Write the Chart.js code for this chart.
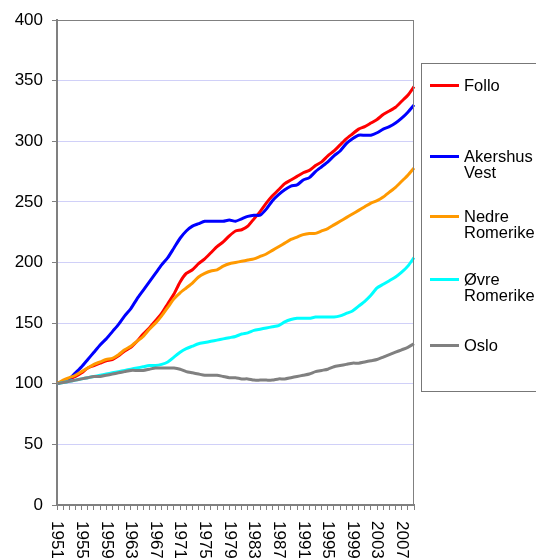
<!DOCTYPE html>
<html>
<head>
<meta charset="utf-8">
<script src="https://cdn.jsdelivr.net/npm/chart.js@4/dist/chart.umd.min.js"></script>
<style>
    body {
        margin: 0;
        width: 536px;
        height: 558px;
        overflow: hidden;
        background: #fff;
        position: relative;
        font-family: "Liberation Sans", Arial, sans-serif;
    }
    #legend {
        position: absolute;
        left: 421px;
        top: 63px;
        width: 140px;
        height: 327px;
        border: 1px solid #777;
    }
    .item {
        position: absolute;
        left: 8px;
        width: 110px;
        font-size: 16.5px;
        line-height: 16px;
        color: #000;
    }
    .item .swatch {
        position: absolute;
        left: 0;
        top: 7px;
        width: 29px;
        height: 3px;
    }
    .item span {
        display: block;
        margin-left: 34px;
        width: 74px;
    }
</style>
</head>
<body>
<canvas id="chart" width="536" height="558"></canvas>
<div id="legend"></div>

<script>
const years = [
    "1951", "1952", "1953", "1954", "1955", "1956", "1957", "1958", "1959", "1960",
    "1961", "1962", "1963", "1964", "1965", "1966", "1967", "1968", "1969", "1970",
    "1971", "1972", "1973", "1974", "1975", "1976", "1977", "1978", "1979", "1980",
    "1981", "1982", "1983", "1984", "1985", "1986", "1987", "1988", "1989", "1990",
    "1991", "1992", "1993", "1994", "1995", "1996", "1997", "1998", "1999", "2000",
    "2001", "2002", "2003", "2004", "2005", "2006", "2007", "2008", "2009"
];

const follo = [
    100, 102, 104, 106, 109, 113, 115, 117, 119, 120,
    123, 127, 130, 135, 141, 146, 152, 158, 166, 174,
    184, 191, 194, 199, 203, 208, 213, 217, 222, 226,
    227, 230, 236, 242, 249, 255, 260, 265, 268, 271,
    274, 276, 280, 283, 288, 292, 297, 302, 306, 310,
    312, 315, 318, 322, 325, 328, 333, 338, 345
];

const akershusVest = [
    100, 102, 104, 109, 114, 120, 126, 132, 137, 143,
    149, 156, 162, 170, 177, 184, 191, 198, 204, 212,
    220, 226, 230, 232, 234, 234, 234, 234, 235, 234,
    236, 238, 239, 239, 244, 251, 256, 260, 263, 264,
    268, 270, 275, 279, 283, 288, 292, 298, 302, 305,
    305, 305, 307, 310, 312, 315, 319, 324, 330
];

const nedreRomerike = [
    100, 103, 105, 107, 110, 113, 116, 118, 120, 121,
    124, 128, 131, 135, 139, 145, 150, 156, 163, 170,
    175, 179, 183, 188, 191, 193, 194, 197, 199, 200,
    201, 202, 203, 205, 207, 210, 213, 216, 219, 221,
    223, 224, 224, 226, 228, 231, 234, 237, 240, 243,
    246, 249, 251, 254, 258, 262, 267, 272, 278
];

const ovreRomerike = [
    100, 101, 102, 103, 104, 105, 106, 107, 108, 109,
    110, 111, 112, 113, 114, 115, 115, 116, 118, 122,
    126, 129, 131, 133, 134, 135, 136, 137, 138, 139,
    141, 142, 144, 145, 146, 147, 148, 151, 153, 154,
    154, 154, 155, 155, 155, 155, 156, 158, 160, 164,
    168, 173, 179, 182, 185, 188, 192, 197, 204
];

const oslo = [
    100, 101, 102, 103, 104, 105, 106, 106, 107, 108,
    109, 110, 111, 111, 111, 112, 113, 113, 113, 113,
    112, 110, 109, 108, 107, 107, 107, 106, 105, 105,
    104, 104, 103, 103, 103, 103, 104, 104, 105, 106,
    107, 108, 110, 111, 112, 114, 115, 116, 117, 117,
    118, 119, 120, 122, 124, 126, 128, 130, 133
];

const seriesNames = ["Follo", "Akershus Vest", "Nedre Romerike", "Øvre Romerike", "Oslo"];
const seriesColors = ["#ff0000", "#0000ff", "#ff9900", "#00ffff", "#808080"];
const seriesData = [follo, akershusVest, nedreRomerike, ovreRomerike, oslo];

const yTicks = [0, 50, 100, 150, 200, 250, 300, 350, 400];

const FONT = "'Liberation Sans', Arial, sans-serif";

/* top + right plot border, like the excel plot area */
const plotBorder = {
    id: "plotBorder",
    afterDatasetsDraw(chart) {
        const { ctx, chartArea } = chart;
        ctx.save();
        ctx.strokeStyle = "#808080";
        ctx.lineWidth = 1;
        ctx.beginPath();
        ctx.moveTo(chartArea.left, chartArea.top + 0.5);
        ctx.lineTo(chartArea.right - 0.5, chartArea.top + 0.5);
        ctx.lineTo(chartArea.right - 0.5, chartArea.bottom);
        ctx.stroke();
        ctx.restore();
    }
};

/* year labels, turned clockwise */
const yearLabels = {
    id: "yearLabels",
    afterDraw(chart) {
        const { ctx } = chart;
        const xs = chart.scales.x;
        ctx.save();
        ctx.fillStyle = "#000";
        ctx.font = "17px " + FONT;
        ctx.textAlign = "left";
        ctx.textBaseline = "middle";
        years.forEach((y, i) => {
            if (i % 4 !== 0) return;
            const x = xs.getPixelForValue(i);
            ctx.save();
            ctx.translate(x, xs.top + 16);
            ctx.rotate(Math.PI / 2);
            ctx.fillText(y, 0, 0);
            ctx.restore();
        });
        ctx.restore();
    }
};

const datasets = seriesNames.map((name, i) => ({
    label: name,
    data: seriesData[i],
    borderColor: seriesColors[i],
    backgroundColor: seriesColors[i],
    borderWidth: 3,
    pointRadius: 0,
    tension: 0.2,
    fill: false,
    order: seriesNames.length - i
}));

new Chart(document.getElementById("chart"), {
    type: "line",
    data: {
        labels: years,
        datasets: datasets
    },
    options: {
        responsive: false,
        animation: false,
        layout: {
            padding: { top: 20, right: 122, left: 0, bottom: 0 }
        },
        plugins: {
            legend: { display: false },
            tooltip: { enabled: false }
        },
        scales: {
            x: {
                type: "category",
                offset: false,
                grid: {
                    drawOnChartArea: false,
                    drawTicks: true,
                    tickLength: 5,
                    tickColor: "#808080"
                },
                border: { color: "#808080", width: 2 },
                ticks: { display: false, autoSkip: false },
                afterFit: s => { s.height = 53; }
            },
            y: {
                min: 0,
                max: 400,
                afterBuildTicks: axis => {
                    axis.ticks = yTicks.map(v => ({ value: v }));
                },
                grid: {
                    color: c => (c.tick && c.tick.value === 400) ? "#808080" : "#d0d0f8",
                    lineWidth: 1,
                    tickLength: 5,
                    tickColor: "#808080"
                },
                border: { color: "#808080", width: 2 },
                ticks: {
                    color: "#000",
                    padding: 9,
                    font: { family: FONT, size: 17 }
                },
                afterFit: s => { s.width = 57; }
            }
        }
    },
    plugins: [plotBorder, yearLabels]
});

/* LEGEND */
const legend = document.getElementById("legend");
const itemTops = [13, 84, 144, 207, 273];

seriesNames.forEach((name, i) => {
    const item = document.createElement("div");
    item.className = "item";
    item.style.top = itemTops[i] + "px";

    const swatch = document.createElement("div");
    swatch.className = "swatch";
    swatch.style.background = seriesColors[i];

    const text = document.createElement("span");
    text.textContent = name;

    item.appendChild(swatch);
    item.appendChild(text);
    legend.appendChild(item);
});
</script>
</body>
</html>
